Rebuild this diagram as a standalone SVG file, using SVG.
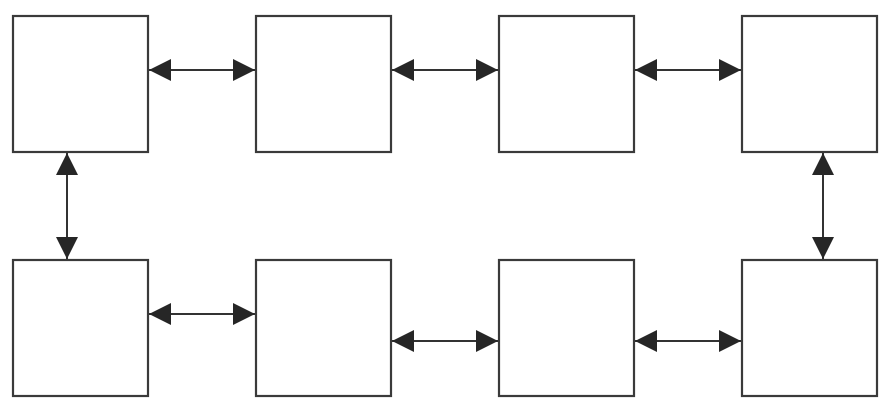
<svg xmlns="http://www.w3.org/2000/svg" width="892" height="407" viewBox="0 0 892 407">
<style>
.box{fill:#fff;stroke:#3a3a3a;stroke-width:2.2}
.conn{stroke:#333;stroke-width:2;fill:none;marker-start:url(#ah);marker-end:url(#ah)}
</style>
<defs>
<marker id="ah" markerUnits="userSpaceOnUse" markerWidth="22" markerHeight="22" refX="22" refY="11" orient="auto-start-reverse" viewBox="0 0 22 22">
<path d="M0,0 L22,11 L0,22 Z" fill="#262626"/>
</marker>
</defs>
<rect width="892" height="407" fill="#fff"/>
<g id="n1"><rect class="box" x="13" y="16" width="135" height="136"/></g>
<g id="n2"><rect class="box" x="256" y="16" width="135" height="136"/></g>
<g id="n3"><rect class="box" x="499" y="16" width="135" height="136"/></g>
<g id="n4"><rect class="box" x="742" y="16" width="135" height="136"/></g>
<g id="n5"><rect class="box" x="13" y="260" width="135" height="136"/></g>
<g id="n6"><rect class="box" x="256" y="260" width="135" height="136"/></g>
<g id="n7"><rect class="box" x="499" y="260" width="135" height="136"/></g>
<g id="n8"><rect class="box" x="742" y="260" width="135" height="136"/></g>
<g id="connectors">
<line class="conn" x1="149" y1="70" x2="255" y2="70"/>
<line class="conn" x1="392" y1="70" x2="498" y2="70"/>
<line class="conn" x1="635" y1="70" x2="741" y2="70"/>
<line class="conn" x1="67" y1="153" x2="67" y2="259"/>
<line class="conn" x1="823" y1="153" x2="823" y2="259"/>
<line class="conn" x1="149" y1="314" x2="255" y2="314"/>
<line class="conn" x1="392" y1="341" x2="498" y2="341"/>
<line class="conn" x1="635" y1="341" x2="741" y2="341"/>
</g>
</svg>
